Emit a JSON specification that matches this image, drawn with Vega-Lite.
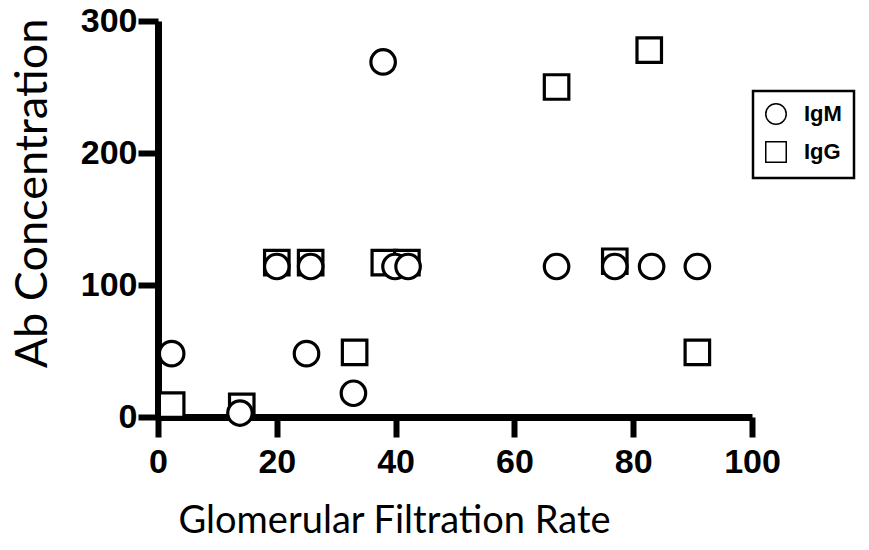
{
  "$schema": "https://vega.github.io/schema/vega-lite/v6.json",
  "width": 594,
  "height": 396,
  "autosize": {"type": "none"},
  "padding": {"left": 158, "top": 21, "right": 117, "bottom": 133},
  "background": "white",
  "config": {
    "view": {"stroke": null},
    "legend": {"strokeWidth": 2.5},
    "axis": {
      "grid": false,
      "domainColor": "black",
      "domainWidth": 7,
      "tickColor": "black",
      "tickWidth": 6,
      "tickSize": 20,
      "labelFont": "Liberation Sans",
      "labelFontWeight": "bold",
      "labelFontSize": 34,
      "labelColor": "black",
      "titleColor": "black",
      "titleFont": "Lato",
      "titleFontWeight": "normal"
    }
  },
  "data": {
    "values": [
      {"gfr": 2.3, "ab": 9, "type": "IgG"},
      {"gfr": 14.1, "ab": 8, "type": "IgG"},
      {"gfr": 20.0, "ab": 117, "type": "IgG"},
      {"gfr": 25.7, "ab": 117, "type": "IgG"},
      {"gfr": 33.1, "ab": 49, "type": "IgG"},
      {"gfr": 38.1, "ab": 117, "type": "IgG"},
      {"gfr": 41.9, "ab": 117, "type": "IgG"},
      {"gfr": 67.1, "ab": 250, "type": "IgG"},
      {"gfr": 76.9, "ab": 118, "type": "IgG"},
      {"gfr": 82.7, "ab": 278, "type": "IgG"},
      {"gfr": 90.8, "ab": 49, "type": "IgG"},
      {"gfr": 2.3, "ab": 48, "type": "IgM"},
      {"gfr": 13.8, "ab": 3, "type": "IgM"},
      {"gfr": 20.0, "ab": 114, "type": "IgM"},
      {"gfr": 25.7, "ab": 114, "type": "IgM"},
      {"gfr": 25.0, "ab": 48, "type": "IgM"},
      {"gfr": 32.9, "ab": 18, "type": "IgM"},
      {"gfr": 37.9, "ab": 269, "type": "IgM"},
      {"gfr": 39.9, "ab": 114, "type": "IgM"},
      {"gfr": 42.1, "ab": 114, "type": "IgM"},
      {"gfr": 67.1, "ab": 114, "type": "IgM"},
      {"gfr": 76.9, "ab": 114, "type": "IgM"},
      {"gfr": 83.1, "ab": 114, "type": "IgM"},
      {"gfr": 90.8, "ab": 114, "type": "IgM"}
    ]
  },
  "mark": {
    "type": "point",
    "filled": true,
    "fill": "white",
    "stroke": "black",
    "strokeWidth": 3.2,
    "size": 600,
    "opacity": 1
  },
  "encoding": {
    "x": {
      "field": "gfr",
      "type": "quantitative",
      "scale": {"domain": [0, 100], "nice": false, "zero": false},
      "axis": {
        "values": [0, 20, 40, 60, 80, 100],
        "labelPadding": 8,
        "title": "Glomerular Filtration Rate",
        "titleFontSize": 38,
        "titleX": 236,
        "titleY": 115,
        "titleAlign": "center",
        "titleBaseline": "alphabetic",
        "labelFlush": false
      }
    },
    "y": {
      "field": "ab",
      "type": "quantitative",
      "scale": {"domain": [0, 300], "nice": false},
      "axis": {
        "values": [0, 100, 200, 300],
        "labelPadding": 1,
        "title": "Ab Concentration",
        "titleFontSize": 45,
        "titleAngle": -90,
        "titleX": -112,
        "titleY": 172,
        "titleAlign": "center",
        "titleBaseline": "alphabetic",
        "labelFlush": false
      }
    },
    "shape": {
      "field": "type",
      "type": "nominal",
      "scale": {"domain": ["IgM", "IgG"], "range": ["circle", "square"]},
      "legend": {
        "title": null,
        "orient": "none",
        "legendX": 595,
        "legendY": 70,
        "strokeColor": "black",
        "padding": 12,
        "symbolSize": 420,
        "labelFont": "Liberation Sans",
        "labelFontWeight": "bold",
        "labelFontSize": 22,
        "labelColor": "black",
        "labelOffset": 17,
        "rowPadding": 10,
        "encode": {
          "symbols": {
            "update": {
              "fill": {"value": "white"},
              "stroke": {"value": "black"},
              "strokeWidth": {"value": 3},
              "opacity": {"value": 1}
            }
          }
        }
      }
    },
    "order": {"field": "type", "sort": "ascending"}
  }
}
